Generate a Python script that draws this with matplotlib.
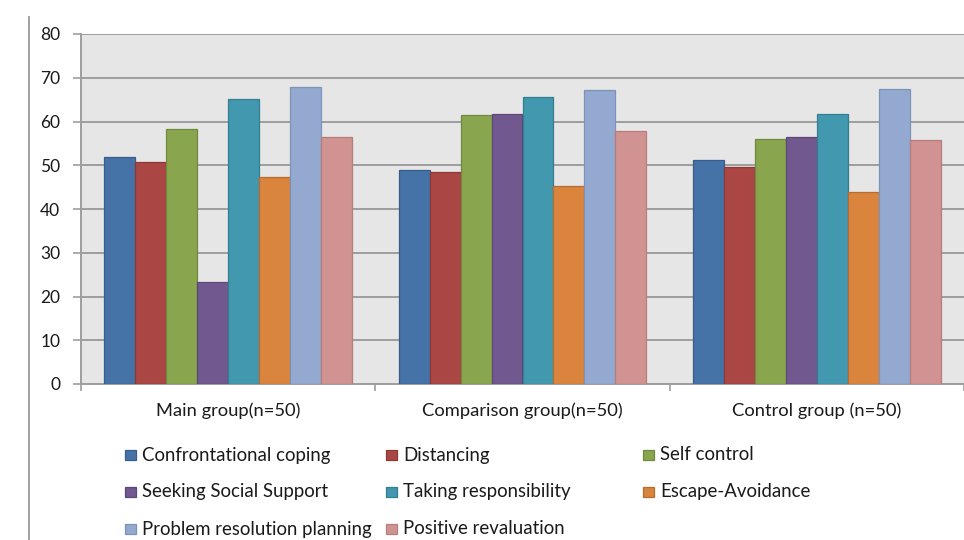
import matplotlib
matplotlib.use("Agg")
import matplotlib.pyplot as plt
from matplotlib.patches import Rectangle
from matplotlib.lines import Line2D
import numpy as np

groups = ["Main group(n=50)", "Comparison group(n=50)", "Control group (n=50)"]
series_names = [
    "Confrontational coping",
    "Distancing",
    "Self control",
    "Seeking Social Support",
    "Taking responsibility",
    "Escape-Avoidance",
    "Problem resolution planning",
    "Positive revaluation",
]
confrontational = [52.0, 49.0, 51.1]
distancing = [50.8, 48.4, 49.5]
self_control = [58.2, 61.4, 56.1]
social_support = [23.4, 61.8, 56.5]
responsibility = [65.2, 65.6, 61.7]
escape_avoidance = [47.3, 45.2, 43.8]
problem_planning = [67.8, 67.1, 67.4]
positive_reval = [56.5, 57.9, 55.8]
values = [confrontational, distancing, self_control, social_support,
          responsibility, escape_avoidance, problem_planning, positive_reval]
y_ticks = [0, 10, 20, 30, 40, 50, 60, 70, 80]

fills = ["#4572A7", "#AA4643", "#89A54E", "#71588F",
         "#4198AF", "#DB843D", "#93A9CF", "#D19392"]
edges = ["#385D8A", "#8C3836", "#71893F", "#5C4776",
         "#357D91", "#B66D31", "#7D92B8", "#B77D7C"]

plt.rcParams["font.family"] = ["Lato", "DejaVu Sans"]
W, H = 964, 540
fig = plt.figure(figsize=(W / 100, H / 100), dpi=100)
ax = fig.add_axes([81 / W, (H - 384) / H, (964 - 81) / W, 350 / H])
ax.set_facecolor("#E6E6E6")

n = len(values)
bw = 1 / 9.5
x = np.arange(len(groups))
for i, (vals, fc, ec) in enumerate(zip(values, fills, edges)):
    ax.bar(x + (i - (n - 1) / 2) * bw, vals, width=bw, color=fc,
           edgecolor=ec, linewidth=0.9, zorder=3)

ax.set_xlim(-0.5, len(groups) - 0.5)
ax.set_ylim(0, 80)
ax.set_yticks(y_ticks)
ax.yaxis.grid(True, color="#9E9E9E", linewidth=1.4, zorder=1)
ax.set_axisbelow(True)

ax.set_xticks(x)
ax.set_xticklabels(groups)
ax.set_xticks(np.arange(len(groups) + 1) - 0.5, minor=True)
ax.tick_params(axis="x", which="major", length=0, pad=13, labelsize=13.2,
               labelcolor="#1A1A1A")
ax.tick_params(axis="x", which="minor", length=5, width=1.2, color="#9E9E9E",
               direction="out")
ax.tick_params(axis="y", length=6, width=1.2, color="#9E9E9E", pad=9,
               labelsize=12.5, labelcolor="#1A1A1A")

for side in ("top", "right"):
    ax.spines[side].set_visible(False)
for side in ("left", "bottom"):
    ax.spines[side].set_color("#9E9E9E")
    ax.spines[side].set_linewidth(1.4)

# frame line at the left side of the figure
fig.add_artist(Line2D([28.5 / W, 28.5 / W], [0, 1 - 17 / H],
                      transform=fig.transFigure, color="#9A9A9A", linewidth=1.3))

# legend laid out in three columns
col_x = [125, 386, 643]
row_y = [455, 492, 529]
for k, name in enumerate(series_names):
    r, c = divmod(k, 3)
    x0, yc = col_x[c], row_y[r]
    fig.add_artist(Rectangle((x0 / W, 1 - (yc + 5) / H), 11 / W, 10 / H,
                             transform=fig.transFigure, facecolor=fills[k],
                             edgecolor=edges[k], linewidth=0.9))
    fig.text((x0 + 17) / W, 1 - yc / H, name, ha="left", va="center",
             fontsize=13.4, color="#1A1A1A")

fig.savefig("out.png", dpi=100)
